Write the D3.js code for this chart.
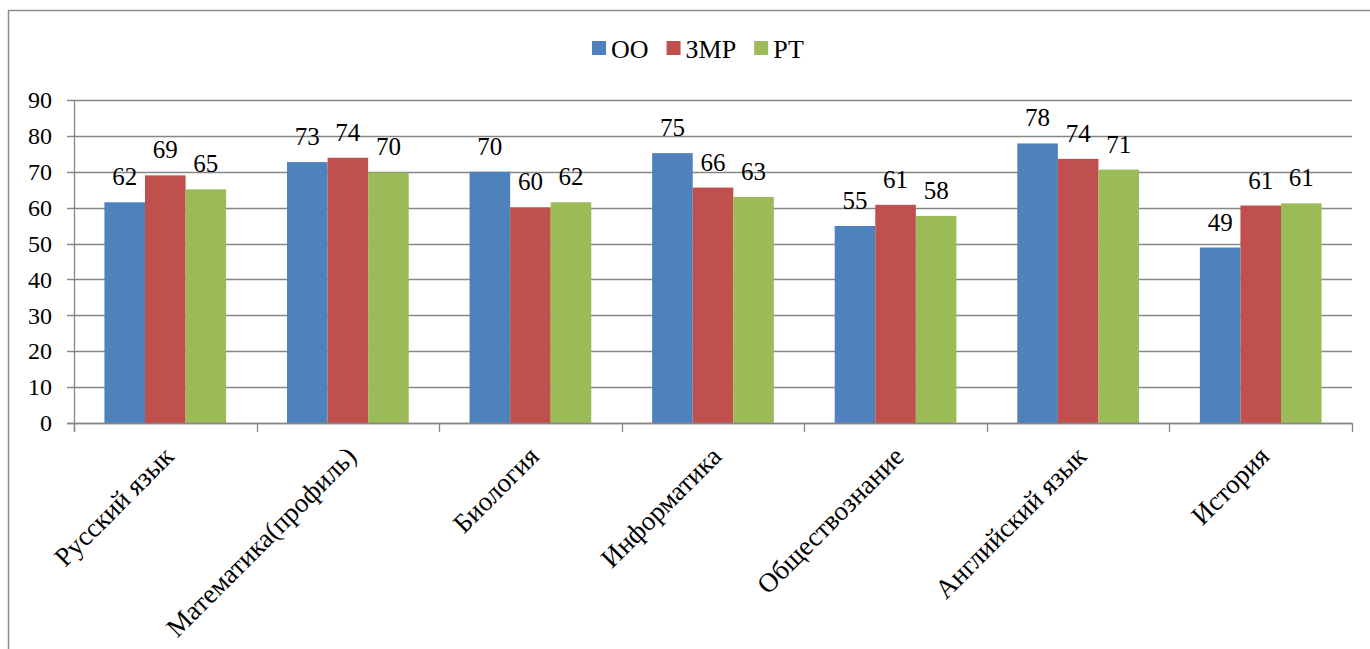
<!DOCTYPE html>
<html>
<head>
<meta charset="utf-8">
<title>Результаты ЕГЭ</title>
<script src="https://d3js.org/d3.v7.min.js"></script>
<style>
    body { margin: 0; background: #fff; }
</style>
</head>
<body>
<div id="my_dataviz"></div>
<script>

    // categories and series
    var subjects = ["Русский язык", "Математика(профиль)", "Биология", "Информатика",
        "Обществознание", "Английский язык", "История"];
    var seriesNames = ["ОО", "ЗМР", "РТ"];

    // values
    var valuesOO = [61.5, 72.7, 70.0, 75.2, 54.9, 77.9, 48.9];
    var valuesZMR = [69.0, 73.9, 60.1, 65.6, 60.8, 73.6, 60.6];
    var valuesRT = [65.1, 69.8, 61.5, 63.0, 57.7, 70.6, 61.2];

    var yTicks = [0, 10, 20, 30, 40, 50, 60, 70, 80, 90];
    var colors = ["#4F81BD", "#C0504D", "#9BBB59"];

    var allValues = [valuesOO, valuesZMR, valuesRT];
    var serif = "'Liberation Serif'";

    // plot box
    var width = 1370, height = 649;
    var plotLeft = 74, plotRight = 1352, plotTop = 100, plotBottom = 423;

    var svg = d3.select("#my_dataviz")
        .append("svg")
        .attr("width", width)
        .attr("height", height)
        .style("font-family", serif);

    // outer frame (runs past the right and bottom of the view)
    svg.append("rect")
        .attr("x", 8.5)
        .attr("y", 10.5)
        .attr("width", 1400)
        .attr("height", 700)
        .style("fill", "none")
        .style("stroke", "#8c8c8c")
        .style("stroke-width", 1.5);

    var y = d3.scaleLinear()
        .domain([0, 90])
        .range([plotBottom, plotTop]);

    var x0 = d3.scaleBand()
        .domain(subjects)
        .range([plotLeft, plotRight])
        .padding(0);

    var x1 = d3.scaleBand()
        .domain(seriesNames)
        .range([0, x0.bandwidth()])
        .paddingInner(0)
        .paddingOuter(0.75);

    // gridlines + left ticks
    svg.append("g")
        .selectAll("line")
        .data(yTicks)
        .enter()
        .append("line")
        .attr("x1", plotLeft - 7)
        .attr("x2", plotRight)
        .attr("y1", function (d) { return Math.round(y(d)) + 0.5; })
        .attr("y2", function (d) { return Math.round(y(d)) + 0.5; })
        .style("stroke", "#868686")
        .style("stroke-width", 1.3);

    // Y axis labels
    var yAxis = svg.append("g")
        .attr("transform", "translate(" + plotLeft + ",0)")
        .call(d3.axisLeft(y).tickValues(yTicks).tickSize(0).tickPadding(22));
    yAxis.select(".domain").remove();
    yAxis.selectAll("text")
        .style("font-family", serif)
        .style("font-size", "24px")
        .style("fill", "#000");

    // bars
    var groups = svg.append("g")
        .selectAll("g")
        .data(subjects)
        .enter()
        .append("g")
        .attr("transform", function (d) { return "translate(" + x0(d) + ",0)"; });

    groups.selectAll("rect")
        .data(function (d, i) {
            return seriesNames.map(function (s, k) { return { key: s, k: k, value: allValues[k][i] }; });
        })
        .enter()
        .append("rect")
        .attr("x", function (d) { return x1(d.key); })
        .attr("y", function (d) { return y(d.value); })
        .attr("width", x1.bandwidth())
        .attr("height", function (d) { return y(0) - y(d.value); })
        .style("fill", function (d) { return colors[d.k]; });

    // value labels
    groups.selectAll("text")
        .data(function (d, i) {
            return seriesNames.map(function (s, k) { return { key: s, value: allValues[k][i] }; });
        })
        .enter()
        .append("text")
        .attr("x", function (d) { return x1(d.key) + x1.bandwidth() / 2; })
        .attr("y", function (d) { return y(d.value) - 17; })
        .attr("text-anchor", "middle")
        .style("font-family", serif)
        .style("font-size", "25px")
        .text(function (d) { return Math.round(d.value); });

    // Y axis line
    svg.append("line")
        .attr("x1", plotLeft + 0.5).attr("x2", plotLeft + 0.5)
        .attr("y1", plotTop).attr("y2", plotBottom + 9)
        .style("stroke", "#868686")
        .style("stroke-width", 1.3);

    // X axis with ticks at category boundaries
    svg.append("line")
        .attr("x1", plotLeft - 7).attr("x2", plotRight)
        .attr("y1", plotBottom + 0.5).attr("y2", plotBottom + 0.5)
        .style("stroke", "#868686")
        .style("stroke-width", 1.3);

    svg.append("g")
        .selectAll("line")
        .data(subjects.concat(["end"]))
        .enter()
        .append("line")
        .attr("x1", function (d, i) { return Math.round(plotLeft + i * x0.step()) + 0.5; })
        .attr("x2", function (d, i) { return Math.round(plotLeft + i * x0.step()) + 0.5; })
        .attr("y1", plotBottom)
        .attr("y2", plotBottom + 9)
        .style("stroke", "#868686")
        .style("stroke-width", 1.3);

    // category labels, rotated
    var xAxis = svg.append("g")
        .attr("transform", "translate(0," + plotBottom + ")")
        .call(d3.axisBottom(x0).tickSize(0).tickPadding(0));
    xAxis.select(".domain").remove();
    xAxis.selectAll("text")
        .attr("y", 0)
        .attr("dy", 0)
        .attr("text-anchor", "end")
        .attr("transform", "translate(10,35) rotate(-45)")
        .style("font-family", serif)
        .style("font-size", "27px")
        .style("fill", "#000");

    // legend
    var legend = svg.append("g");
    var lx = 592;
    seriesNames.forEach(function (s, k) {
        legend.append("rect")
            .attr("x", lx)
            .attr("y", 41)
            .attr("width", 14)
            .attr("height", 14)
            .style("fill", colors[k]);
        var t = legend.append("text")
            .attr("x", lx + 19)
            .attr("y", 58)
            .style("font-family", serif)
            .style("font-size", "26px")
            .text(s);
        lx = lx + 19 + t.node().getComputedTextLength() + 18;
    });

</script>
</body>
</html>
